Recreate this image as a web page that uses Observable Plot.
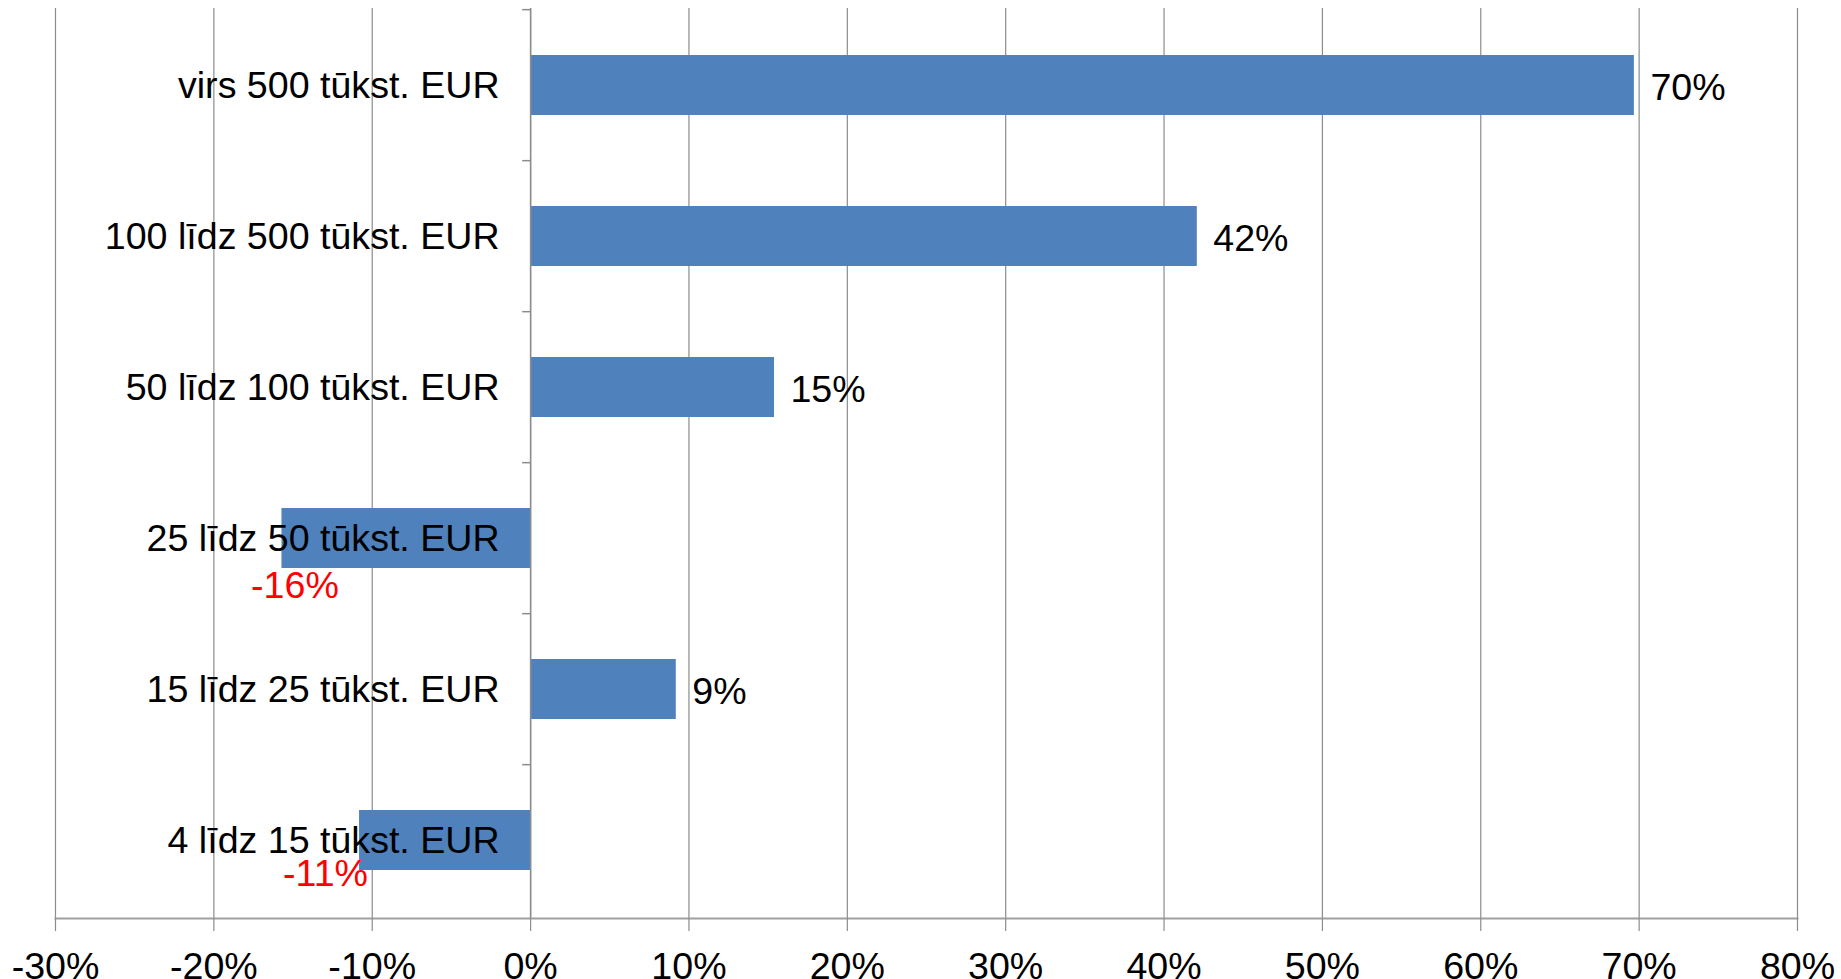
<!DOCTYPE html>
<html>
<head>
<meta charset="utf-8">
<script src="https://cdn.jsdelivr.net/npm/d3@7"></script>
<script src="https://cdn.jsdelivr.net/npm/@observablehq/plot@0.6"></script>
<style>
  html, body { margin: 0; padding: 0; background: #fff; }
  #chart svg { display: block; }
</style>
</head>
<body>
<div id="chart"></div>
<script>
// Categories (top to bottom)
const categories = [
  "virs 500 tūkst. EUR",
  "100 līdz 500 tūkst. EUR",
  "50 līdz 100 tūkst. EUR",
  "25 līdz 50 tūkst. EUR",
  "15 līdz 25 tūkst. EUR",
  "4 līdz 15 tūkst. EUR"
];
// Change, percent
const values = [69.7, 42.1, 15.4, -15.7, 9.2, -10.8];
// Data labels as shown
const valueLabels = ["70%", "42%", "15%", "-16%", "9%", "-11%"];
// X axis ticks
const xTicks = [-30, -20, -10, 0, 10, 20, 30, 40, 50, 60, 70, 80];

const data = categories.map((c, i) => ({cat: c, value: values[i], label: valueLabels[i]}));

const W = 1841, H = 979;
const mTop = 8, mBottom = 61, mLeft = 55, mRight = 44;
const step = (H - mTop - mBottom) / categories.length;
const grid = "#8c8c8c";
const font = "Liberation Sans, Arial, sans-serif";
const fs = 37.6;

const chart = Plot.plot({
  width: W,
  height: H,
  marginTop: mTop,
  marginBottom: mBottom,
  marginLeft: mLeft,
  marginRight: mRight,
  style: {fontFamily: font, fontSize: fs + "px", color: "#000", background: "#fff"},
  x: {domain: [-30, 80], label: null},
  y: {domain: categories, axis: null, label: null, paddingInner: 0.6, paddingOuter: 0.3},
  marks: [
    Plot.gridX({ticks: xTicks, stroke: grid, strokeOpacity: 1, strokeWidth: 1.2}),
    Plot.barX(data, {x: "value", y: "cat", fill: "#4F81BD"}),
    Plot.ruleX([0], {stroke: grid, strokeWidth: 1.5}),
    Plot.ruleY(data, {y: "cat", x1: -0.5, x2: 0, dy: -step / 2, stroke: grid, strokeWidth: 1.5}),
    Plot.frame({anchor: "bottom", stroke: "#a0a0a0", strokeWidth: 2}),
    Plot.axisX({ticks: xTicks, tickSize: 13, tickPadding: 21, tickFormat: d => d + "%", label: null,
      stroke: grid, strokeWidth: 1.2, fontSize: fs, fill: "#000"}),
    Plot.text(data, {x: 0, y: "cat", text: "cat", textAnchor: "end", dx: -31, fontSize: fs, fill: "#000"}),
    Plot.text(data.filter(d => d.value > 0), {x: "value", y: "cat", text: "label", textAnchor: "start", dx: 16, dy: 2, fontSize: fs, fill: "#000"}),
    Plot.text(data.filter(d => d.cat === categories[3]), {x: "value", y: "cat", text: "label", textAnchor: "middle", dx: 13, dy: 47, fontSize: fs, fill: "#FF0000"}),
    Plot.text(data.filter(d => d.cat === categories[5]), {x: "value", y: "cat", text: "label", textAnchor: "middle", dx: -34, dy: 33, fontSize: fs, fill: "#FF0000"})
  ]
});
document.getElementById("chart").appendChild(chart);
</script>
</body>
</html>
